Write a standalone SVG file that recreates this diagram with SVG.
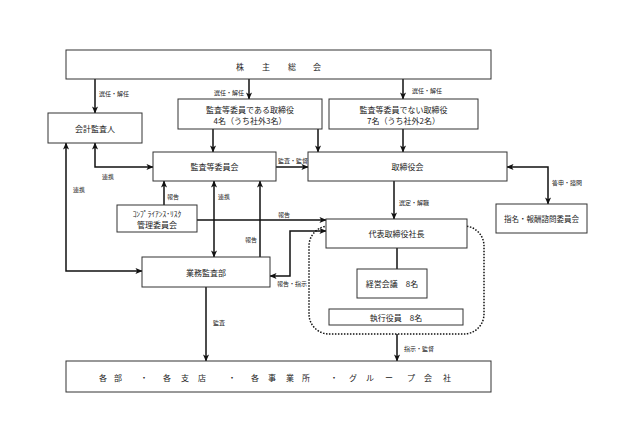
<svg xmlns="http://www.w3.org/2000/svg" width="633" height="443" viewBox="0 0 633 443">
<style>
  .box { fill: #fff; stroke: #333; stroke-width: 1; }
  .t { font-family: "Noto Sans CJK JP", "Noto Sans CJK SC", sans-serif; font-size: 8px; fill: #222; text-anchor: middle; dominant-baseline: central; }
  .lbl { font-family: "Noto Sans CJK JP", "Noto Sans CJK SC", sans-serif; font-size: 6px; fill: #222; dominant-baseline: central; }
  .c { fill: none; stroke: #111; stroke-width: 1.5; }
  .a { marker-end: url(#ah); }
  .aa { marker-start: url(#ah); marker-end: url(#ah); }
  .dot { fill: none; stroke: #111; stroke-width: 1.5; stroke-dasharray: 1.5 1.5; }
</style>
<defs>
  <marker id="ah" viewBox="0 0 8 8" refX="7.5" refY="4" markerWidth="7" markerHeight="7" markerUnits="userSpaceOnUse" orient="auto-start-reverse">
    <path d="M0,0.5 L8,4 L0,7.5 L2,4 z" fill="#111"/>
  </marker>
</defs>
<rect width="633" height="443" fill="#fff"/>

<rect class="dot" x="309" y="226" width="175" height="108" rx="20"/>

<g id="connectors">
  <path class="c a" d="M95,79 V113"/>
  <path class="c a" d="M249,79 V99"/>
  <path class="c a" d="M403,79 V99"/>
  <path class="c a" d="M213,129 V152"/>
  <path class="c a" d="M318,129 V152"/>
  <path class="c a" d="M403,129 V152"/>
  <path class="c a" d="M276,167 H308"/>
  <path class="c aa" d="M507,167 H548 V204"/>
  <path class="c a" d="M394,181 V219"/>
  <path class="c aa" d="M95,143 V167 H153"/>
  <path class="c aa" d="M66,143 V271 H142"/>
  <path class="c a" d="M164,205 V181"/>
  <path class="c a" d="M197,220 H326"/>
  <path class="c aa" d="M214,181 V257"/>
  <path class="c a" d="M260,257 V181"/>
  <path class="c aa" d="M270,276 H290 V231 H326"/>
  <path class="c a" d="M206,287 V361"/>
  <path class="c" d="M397,248 V269"/>
  <path class="c a" d="M397,334 V361"/>
  <text class="lbl" x="99" y="93">選任・解任</text>
  <text class="lbl" x="244" y="92" text-anchor="end">選任・解任</text>
  <text class="lbl" x="412" y="90">選任・解任</text>
  <text class="lbl" x="278" y="160">監査・監督</text>
  <text class="lbl" x="552" y="182">答申・諮問</text>
  <text class="lbl" x="399" y="202">選定・解職</text>
  <text class="lbl" x="102" y="176">連携</text>
  <text class="lbl" x="73" y="189">連携</text>
  <text class="lbl" x="167" y="196">報告</text>
  <text class="lbl" x="278" y="214">報告</text>
  <text class="lbl" x="218" y="196">連携</text>
  <text class="lbl" x="245" y="239">報告</text>
  <text class="lbl" x="277" y="283">報告・指示</text>
  <text class="lbl" x="213" y="322">監査</text>
  <text class="lbl" x="404" y="348">指示・監督</text>
</g>

<g id="shareholders">
  <rect class="box" x="66" y="50" width="425" height="29"/>
  <text class="t" x="240 266 292 317" y="66">株主総会</text>
</g>
<g id="auditor">
  <rect class="box" x="48" y="113" width="94" height="30"/>
  <text class="t" x="95" y="128">会計監査人</text>
</g>
<g id="audit-directors">
  <rect class="box" x="178" y="99" width="144" height="30"/>
  <text class="t" x="250" y="109">監査等委員である取締役</text>
  <text class="t" x="250" y="120">4名（うち社外3名）</text>
</g>
<g id="other-directors">
  <rect class="box" x="329" y="99" width="149" height="30"/>
  <text class="t" x="403.5" y="109">監査等委員でない取締役</text>
  <text class="t" x="403.5" y="120">7名（うち社外2名）</text>
</g>
<g id="audit-committee">
  <rect class="box" x="153" y="152" width="123" height="29"/>
  <text class="t" x="214.5" y="166.5">監査等委員会</text>
</g>
<g id="board">
  <rect class="box" x="308" y="152" width="199" height="29"/>
  <text class="t" x="407.5" y="166.5">取締役会</text>
</g>
<g id="nomination">
  <rect class="box" x="496" y="204" width="91" height="29"/>
  <text class="t" x="541.5" y="218.5" style="font-size:7.5px">指名・報酬諮問委員会</text>
</g>
<g id="compliance">
  <rect class="box" x="117" y="205" width="80" height="27"/>
  <text class="t" x="157" y="213" style="font-size:7.5px">ｺﾝﾌﾟﾗｲｱﾝｽ･ﾘｽｸ</text>
  <text class="t" x="157" y="224.5">管理委員会</text>
</g>
<g id="president">
  <rect class="box" x="326" y="219" width="141" height="29"/>
  <text class="t" x="396.5" y="233.5">代表取締役社長</text>
</g>
<g id="internal-audit">
  <rect class="box" x="142" y="257" width="128" height="30"/>
  <text class="t" x="206" y="272">業務監査部</text>
</g>
<g id="management-meeting">
  <rect class="box" x="357" y="269" width="70" height="29"/>
  <text class="t" x="392" y="283.5">経営会議　8名</text>
</g>
<g id="officers">
  <rect class="box" x="329" y="309" width="134" height="16"/>
  <text class="t" x="396" y="317">執行役員　8名</text>
</g>
<g id="divisions">
  <rect class="box" x="66" y="361" width="425" height="31"/>
  <text class="t" x="103 118 144 167 185 202 232 255 272 290 306 334 353 370 389 411 428 447" y="377">各部・各支店・各事業所・グループ会社</text>
</g>
</svg>
